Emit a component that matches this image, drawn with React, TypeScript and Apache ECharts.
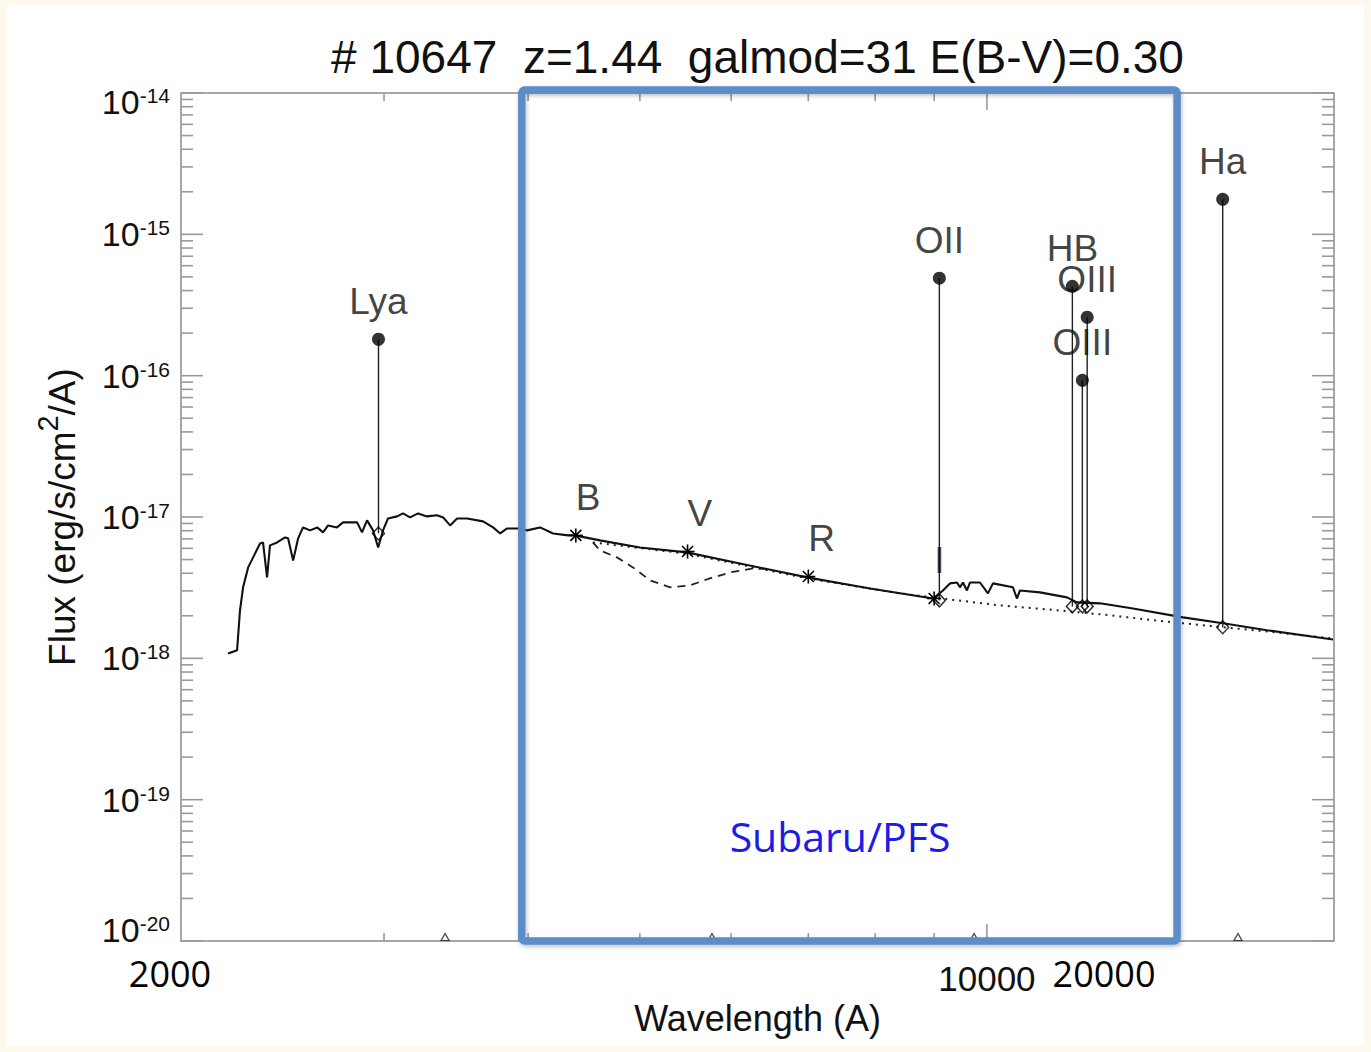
import React, { useEffect, useRef } from 'react';
import * as echarts from 'echarts';

// ---------- data ----------
const titleText = '# 10647  z=1.44  galmod=31 E(B-V)=0.30';
const xMin = 2000;
const xMax = 20000;
const yMin = 1e-20;
const yMax = 1e-14;

// observed spectrum (solid)
const specWave = [2197, 2237, 2250, 2264, 2287, 2310, 2342, 2356, 2375, 2389, 2423, 2462, 2477, 2502, 2527, 2552, 2588, 2625, 2656, 2683, 2731, 2764, 2843, 2871, 2900, 2935, 2965, 2994, 3024, 3079, 3116, 3160, 3211, 3269, 3335, 3376, 3423, 3471, 3541, 3656, 3730, 3783, 3836, 3937, 3992, 4097, 4205, 4333, 4393, 4617, 5002, 5493, 6107, 6983, 7919, 8979, 9160, 9289, 9420, 9476, 9533, 9609, 9667, 9862, 10021, 10121, 10534, 10618, 10682, 11118, 11734, 11971, 12533, 13388, 14793, 16024, 17493, 19960];
const specFlux = [1.08e-18, 1.14e-18, 2.18e-18, 3.18e-18, 4.4e-18, 5.18e-18, 6.5e-18, 6.61e-18, 3.74e-18, 6.3e-18, 6.61e-18, 7.17e-18, 7.06e-18, 4.93e-18, 7.06e-18, 8.44e-18, 8.04e-18, 8.44e-18, 7.78e-18, 8.72e-18, 8.44e-18, 9.16e-18, 9.16e-18, 7.78e-18, 9.46e-18, 8.04e-18, 6.09e-18, 8.04e-18, 9.77e-18, 1.01e-17, 1.06e-17, 9.93e-18, 1.06e-17, 1.01e-17, 1.03e-17, 9.93e-18, 8.72e-18, 9.77e-18, 9.77e-18, 9.31e-18, 8.44e-18, 7.65e-18, 8.3e-18, 8.3e-18, 8.04e-18, 8.44e-18, 7.65e-18, 7.41e-18, 7.41e-18, 6.83e-18, 6.09e-18, 5.62e-18, 4.69e-18, 3.74e-18, 3.12e-18, 2.65e-18, 3.02e-18, 3.39e-18, 3.44e-18, 3.18e-18, 3.44e-18, 3.02e-18, 3.44e-18, 3.44e-18, 2.88e-18, 3.39e-18, 3.18e-18, 2.65e-18, 3.02e-18, 2.93e-18, 2.7e-18, 2.49e-18, 2.45e-18, 2.25e-18, 1.95e-18, 1.77e-18, 1.58e-18, 1.36e-18];

// dashed model
const dashWave = [4553, 4617, 4777, 4932, 5103, 5311, 5526, 5751, 5986, 6267, 6522];
const dashFlux = [6.61e-18, 5.8e-18, 5.18e-18, 4.4e-18, 3.56e-18, 3.18e-18, 3.28e-18, 3.68e-18, 4.05e-18, 4.33e-18, 4.26e-18];

// dotted continuum
const dotWave = [4553, 5493, 6983, 8406, 9289, 10264, 11571, 12533, 14500, 16024, 17493, 19960];
const dotFlux = [6.61e-18, 5.5e-18, 3.68e-18, 2.88e-18, 2.61e-18, 2.37e-18, 2.18e-18, 2.05e-18, 1.8e-18, 1.66e-18, 1.55e-18, 1.38e-18];

// emission lines
const lineNames = ['Lya', 'OII', 'HB', 'OIII', 'OIII', 'Ha'];
const lineWave = [2967, 9094, 11861, 12100, 12217, 16014];
const linePeak = [1.81e-16, 4.89e-16, 4.29e-16, 9.27e-17, 2.59e-16, 1.77e-15];
const lineBase = [7.65e-18, 2.57e-18, 2.33e-18, 2.33e-18, 2.33e-18, 1.66e-18];

// photometric bands
const bandNames = ['B', 'V', 'R', 'I'];
const bandWave = [4400, 5500, 7000, 9000];
const bandFlux = [7.41e-18, 5.7e-18, 3.79e-18, 2.65e-18];

// small markers on the bottom axis
const limitWave = [3389, 5775, 9747, 16511];

// ticks
const yMajorTicks = [1e-20, 1e-19, 1e-18, 1e-17, 1e-16, 1e-15, 1e-14];
const yMinorMult = [2, 3, 4, 5, 6, 7, 8, 9];
const xMinorTicks = [3000, 4000, 5000, 6000, 7000, 8000, 9000];
const xMajorTicks = [10000];
const xTickLabels = ['10000'];
const xOverlayLabels = ['2000', '20000'];

// Subaru/PFS box (wavelength range)
const pfsRange = [3950, 14620];
const pfsText = 'Subaru/PFS';

const HEL = '"Liberation Sans", Arial, Helvetica, sans-serif';
const OPEN = '"Open Sans", "Noto Sans", sans-serif';
const INK = '#111111';

export default function App() {
  const ref = useRef<HTMLDivElement>(null);

  useEffect(() => {
    const el = ref.current!;
    const chart = echarts.init(el, null, { renderer: 'svg' });

    const pairs = (xs: number[], ys: number[]) => xs.map((x, i) => [x, ys[i]]);

    const tickData: number[][] = [];
    yMajorTicks.forEach((v, i) => {
      tickData.push([xMin, v, 0, 1]);
      if (i < yMajorTicks.length - 1) yMinorMult.forEach((m) => tickData.push([xMin, v * m, 0, 0]));
    });
    xMinorTicks.forEach((v) => tickData.push([v, yMin, 1, 0]));
    xMajorTicks.forEach((v) => tickData.push([v, yMin, 1, 1]));

    const topExp = Math.round(Math.log10(yMax));
    const botExp = Math.round(Math.log10(yMin));

    const option: any = {
      animation: false,
      grid: { left: 181, top: 93, right: 37, bottom: 111, show: true, borderColor: '#8a8a8a', borderWidth: 1.5 },
      xAxis: {
        type: 'log',
        min: xMin,
        max: xMax,
        axisLine: { show: false },
        axisTick: { show: false },
        splitLine: { show: false },
        axisLabel: {
          margin: 20,
          fontSize: 35,
          fontFamily: HEL,
          color: INK,
          formatter: (v: number) => {
            const hit = xTickLabels.find((l) => Math.abs(Number(l) - v) / v < 1e-3);
            return hit || '';
          },
        },
        name: 'Wavelength (A)',
        nameLocation: 'middle',
        nameGap: 58,
        nameTextStyle: { fontSize: 36, fontFamily: HEL, color: INK },
      },
      yAxis: {
        type: 'log',
        min: yMin,
        max: yMax,
        axisLine: { show: false },
        axisTick: { show: false },
        splitLine: { show: false },
        axisLabel: {
          margin: 11,
          formatter: (v: number) => {
            const e = Math.round(Math.log10(v));
            const core = `{b|10}{s|${e}}`;
            if (e === topExp) return `{et| }\n${core}`;
            if (e === botExp) return `${core}\n{eb| }`;
            return core;
          },
          rich: {
            b: { fontSize: 34, fontFamily: HEL, color: INK, lineHeight: 34, verticalAlign: 'bottom' },
            s: { fontSize: 21, fontFamily: HEL, color: INK, lineHeight: 20, verticalAlign: 'top' },
            et: { fontSize: 10, lineHeight: 18 },
            eb: { fontSize: 10, lineHeight: 22 },
          },
        },
        name: '{n|Flux (erg/s/cm}{sup|2}{n|/A)}',
        nameLocation: 'middle',
        nameGap: 100,
        nameTextStyle: {
          fontSize: 37,
          fontFamily: HEL,
          color: INK,
          rich: {
            n: { fontSize: 37, fontFamily: HEL, color: INK, lineHeight: 48, verticalAlign: 'bottom' },
            sup: { fontSize: 29, fontFamily: HEL, color: INK, verticalAlign: 'top', lineHeight: 28 },
          },
        },
      },
      series: [
        {
          type: 'line',
          data: pairs(dotWave, dotFlux),
          showSymbol: false,
          lineStyle: { color: '#222', width: 2, type: [2, 5] },
          z: 2,
        },
        {
          type: 'line',
          data: pairs(dashWave, dashFlux),
          showSymbol: false,
          lineStyle: { color: '#222', width: 1.8, type: [8, 6] },
          z: 2,
        },
        {
          type: 'line',
          data: pairs(specWave, specFlux),
          showSymbol: false,
          lineStyle: { color: '#111', width: 2.1 },
          z: 3,
        },
        {
          type: 'custom',
          data: lineWave.map((w, i) => [w, lineBase[i], linePeak[i]]),
          renderItem: (params: any, api: any) => {
            const a = api.coord([api.value(0), api.value(1)]);
            const b = api.coord([api.value(0), api.value(2)]);
            return {
              type: 'line',
              shape: { x1: a[0], y1: a[1], x2: b[0], y2: b[1] },
              style: { stroke: '#222', lineWidth: 1.4 },
            };
          },
          z: 4,
        },
        {
          type: 'scatter',
          data: lineWave.map((w, i) => ({ value: [w, linePeak[i]], name: lineNames[i] })),
          symbol: 'circle',
          symbolSize: 13,
          itemStyle: { color: '#000' },
          label: {
            show: true,
            position: 'inside',
            offset: [0, -38],
            formatter: (p: any) => p.name,
            fontSize: 37,
            fontFamily: HEL,
            color: INK,
          },
          z: 5,
        },
        {
          type: 'scatter',
          data: lineWave.map((w, i) => [w, lineBase[i]]),
          symbol: 'diamond',
          symbolSize: [12, 13],
          itemStyle: { color: 'rgba(0,0,0,0)', borderColor: '#000', borderWidth: 1.5 },
          z: 5,
        },
        {
          type: 'custom',
          data: bandWave.map((w, i) => [w, bandFlux[i]]),
          renderItem: (params: any, api: any) => {
            const c = api.coord([api.value(0), api.value(1)]);
            const r = 7;
            const d = 5.5;
            const st = { stroke: '#000', lineWidth: 1.6 };
            return {
              type: 'group',
              children: [
                { type: 'line', shape: { x1: c[0] - r, y1: c[1], x2: c[0] + r, y2: c[1] }, style: st },
                { type: 'line', shape: { x1: c[0], y1: c[1] - r, x2: c[0], y2: c[1] + r }, style: st },
                { type: 'line', shape: { x1: c[0] - d, y1: c[1] - d, x2: c[0] + d, y2: c[1] + d }, style: st },
                { type: 'line', shape: { x1: c[0] - d, y1: c[1] + d, x2: c[0] + d, y2: c[1] - d }, style: st },
              ],
            };
          },
          z: 5,
        },
        {
          type: 'scatter',
          data: bandWave.map((w, i) => ({ value: [w, bandFlux[i]], name: bandNames[i] })),
          symbolSize: 1,
          itemStyle: { color: 'rgba(0,0,0,0)' },
          label: {
            show: true,
            position: 'inside',
            align: 'left',
            offset: [0, -38],
            formatter: (p: any) => p.name,
            fontSize: 37,
            fontFamily: HEL,
            color: INK,
          },
          z: 5,
        },
        {
          type: 'scatter',
          data: limitWave.map((w) => [w, yMin]),
          symbol: 'triangle',
          symbolSize: [8, 7],
          symbolOffset: [0, -4],
          itemStyle: { color: 'rgba(0,0,0,0)', borderColor: '#222', borderWidth: 1.3 },
          z: 5,
        },
        {
          type: 'custom',
          data: tickData,
          renderItem: (params: any, api: any) => {
            const kind = api.value(2);
            const major = api.value(3);
            const st = { stroke: '#9a9a9a', lineWidth: 1.6 };
            if (kind === 0) {
              const v = api.value(1);
              const a = api.coord([xMin, v]);
              const b = api.coord([xMax, v]);
              const len = major ? 22 : 12;
              return {
                type: 'group',
                children: [
                  { type: 'line', shape: { x1: a[0], y1: a[1], x2: a[0] + len, y2: a[1] }, style: st },
                  { type: 'line', shape: { x1: b[0] - len, y1: b[1], x2: b[0], y2: b[1] }, style: st },
                ],
              };
            }
            const v = api.value(0);
            const a = api.coord([v, yMin]);
            const b = api.coord([v, yMax]);
            const len = major ? 17 : 8;
            return {
              type: 'group',
              children: [
                { type: 'line', shape: { x1: a[0], y1: a[1], x2: a[0], y2: a[1] - len }, style: st },
                { type: 'line', shape: { x1: b[0], y1: b[1], x2: b[0], y2: b[1] + len }, style: st },
              ],
            };
          },
          z: 6,
        },
      ],
    };

    chart.setOption(option);

    const xL = chart.convertToPixel({ xAxisIndex: 0 }, pfsRange[0]) as number;
    const xR = chart.convertToPixel({ xAxisIndex: 0 }, pfsRange[1]) as number;
    const yT = (chart.convertToPixel({ yAxisIndex: 0 }, yMax) as number) - 3;
    const yB = chart.convertToPixel({ yAxisIndex: 0 }, yMin) as number;
    const xLeft = chart.convertToPixel({ xAxisIndex: 0 }, xMin) as number;
    const gridMidX = ((chart.convertToPixel({ xAxisIndex: 0 }, xMin) as number) + (chart.convertToPixel({ xAxisIndex: 0 }, xMax) as number)) / 2;

    chart.setOption({
      graphic: [
        {
          type: 'text',
          x: gridMidX,
          y: 57,
          style: { text: titleText, font: `46px ${HEL}`, fill: INK, align: 'center', verticalAlign: 'middle' },
          z: 10,
        },
        {
          type: 'rect',
          shape: { x: xL, y: yT, width: xR - xL, height: yB - yT, r: 3 },
          style: {
            fill: 'none',
            stroke: '#5b8dc9',
            lineWidth: 7.5,
            shadowBlur: 4,
            shadowColor: 'rgba(0,0,0,0.25)',
            shadowOffsetX: 1,
            shadowOffsetY: 2,
          },
          z: 20,
        },
        {
          type: 'text',
          x: 840,
          y: 836,
          style: { text: pfsText, font: `41px ${OPEN}`, fill: '#1c1ce6', align: 'center', verticalAlign: 'middle' },
          z: 21,
        },
        {
          type: 'text',
          x: xLeft - 11,
          y: 973,
          style: { text: xOverlayLabels[0], font: `36px ${OPEN}`, fill: '#000', align: 'center', verticalAlign: 'middle' },
          z: 21,
        },
        {
          type: 'text',
          x: 1104,
          y: 973,
          style: { text: xOverlayLabels[1], font: `36px ${OPEN}`, fill: '#000', align: 'center', verticalAlign: 'middle' },
          z: 21,
        },
      ],
    });

    return () => chart.dispose();
  }, []);

  return (
    <div style={{ position: 'absolute', left: 0, top: 0, width: 1371, height: 1052, background: '#fdf9ec' }}>
      <div style={{ position: 'absolute', left: 7, top: 5, width: 1357, height: 1041, background: '#ffffff' }} />
      <div ref={ref} style={{ position: 'absolute', left: 0, top: 0, width: 1371, height: 1052 }} />
    </div>
  );
}
